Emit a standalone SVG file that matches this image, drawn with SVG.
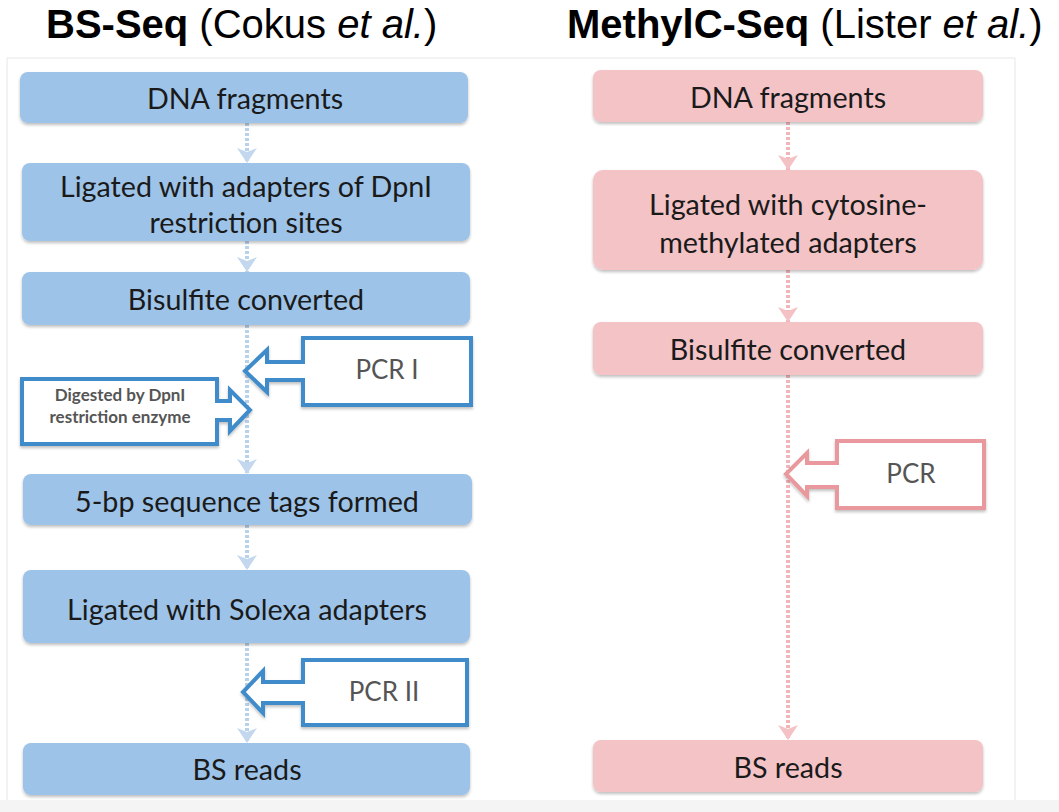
<svg xmlns="http://www.w3.org/2000/svg" width="1059" height="812" viewBox="0 0 1059 812">
<defs>
<style>
.title{font-family:"Liberation Sans",Arial,sans-serif;font-size:40px;fill:#000}
.b{font-weight:bold}
.i{font-style:italic}
.lbl{font-family:Lato,"Noto Sans",sans-serif;font-size:28.7px;fill:#1a1a1a;text-anchor:middle}
.call{font-family:Lato,"Noto Sans",sans-serif;font-size:26px;fill:#555;text-anchor:middle}
.small{font-family:Lato,"Noto Sans",sans-serif;font-size:17px;font-weight:bold;fill:#555;text-anchor:middle}
.blue{fill:#9dc3e8}
.pink{fill:#f3c3c6}
.cb{fill:#fff;stroke:#3f8ccb;stroke-width:4;stroke-linejoin:miter}
.cp{fill:#fff;stroke:#e9989d;stroke-width:4;stroke-linejoin:miter}
.lb{stroke:#b9d2ec;stroke-width:4;stroke-dasharray:3 2;fill:none}
.lp{stroke:#f2b5b9;stroke-width:4;stroke-dasharray:3 2;fill:none}
</style>
<filter id="sh" x="-5%" y="-10%" width="110%" height="130%">
<feDropShadow dx="0" dy="2" stdDeviation="1.5" flood-color="#000" flood-opacity="0.25"/>
</filter>
<marker id="ab" viewBox="0 -10 15 20" refX="15" refY="0" markerWidth="15" markerHeight="20" markerUnits="userSpaceOnUse" orient="auto">
<path d="M0,-10 L15,0 L0,10 L4,0 Z" fill="#c3d8ee"/>
</marker>
<marker id="ap" viewBox="0 -10 15 20" refX="15" refY="0" markerWidth="15" markerHeight="20" markerUnits="userSpaceOnUse" orient="auto">
<path d="M0,-10 L15,0 L0,10 L4,0 Z" fill="#f4c1c4"/>
</marker>
</defs>
<rect x="0" y="0" width="1059" height="812" fill="#fff"/>
<rect x="0" y="800" width="1059" height="12" fill="#f4f4f4"/>
<path d="M7,800 V58 H1015 V800" fill="none" stroke="#e6e6e6" stroke-width="1"/>

<text class="title" x="46" y="38"><tspan class="b">BS-Seq</tspan> (Cokus <tspan class="i">et al.</tspan>)</text>
<text class="title" x="567" y="38"><tspan class="b">MethylC-Seq</tspan> (Lister <tspan class="i">et al.</tspan>)</text>

<g id="connectors">
<line class="lb" x1="247" y1="123" x2="247" y2="163" marker-end="url(#ab)"/>
<line class="lb" x1="247" y1="241" x2="247" y2="272" marker-end="url(#ab)"/>
<line class="lb" x1="247" y1="325" x2="247" y2="474" marker-end="url(#ab)"/>
<line class="lb" x1="247" y1="525" x2="247" y2="570" marker-end="url(#ab)"/>
<line class="lb" x1="247" y1="643" x2="247" y2="743" marker-end="url(#ab)"/>
<line class="lp" x1="788" y1="122" x2="788" y2="170" marker-end="url(#ap)"/>
<line class="lp" x1="788" y1="270" x2="788" y2="322" marker-end="url(#ap)"/>
<line class="lp" x1="788" y1="375" x2="788" y2="740" marker-end="url(#ap)"/>
</g>

<g id="l-dna"><rect class="blue" filter="url(#sh)" x="20" y="72" width="448" height="51" rx="8"/><text class="lbl" x="245" y="109">DNA fragments</text></g>
<g id="l-lig"><rect class="blue" filter="url(#sh)" x="22" y="163" width="448" height="78" rx="8"/><text class="lbl" x="246" y="197">Ligated with adapters of DpnI</text><text class="lbl" x="246" y="233">restriction sites</text></g>
<g id="l-bis"><rect class="blue" filter="url(#sh)" x="22" y="272" width="448" height="53" rx="8"/><text class="lbl" x="246" y="310">Bisulfite converted</text></g>
<g id="l-pcr1"><path class="cb" filter="url(#sh)" d="M303,338 H471 V405 H303 V380 H267 V392 L245,371 L267,350 V362 H303 Z"/><text class="call" x="387" y="379">PCR I</text></g>
<g id="l-dig"><path class="cb" filter="url(#sh)" d="M22,379 H217 V401 H230 V390 L250,410 L230,431 V420 H217 V444 H22 Z"/><text class="small" x="120" y="401">Digested by DpnI</text><text class="small" x="120" y="423">restriction enzyme</text></g>
<g id="l-tags"><rect class="blue" filter="url(#sh)" x="23" y="474" width="449" height="51" rx="8"/><text class="lbl" x="247" y="512">5-bp sequence tags formed</text></g>
<g id="l-sol"><rect class="blue" filter="url(#sh)" x="23" y="570" width="447" height="73" rx="8"/><text class="lbl" x="247" y="620">Ligated with Solexa adapters</text></g>
<g id="l-pcr2"><path class="cb" filter="url(#sh)" d="M303,660 H467 V725 H303 V703 H263 V713 L243,692 L263,671 V682 H303 Z"/><text class="call" x="384" y="701">PCR II</text></g>
<g id="l-bs"><rect class="blue" filter="url(#sh)" x="23" y="743" width="447" height="52" rx="8"/><text class="lbl" x="247" y="780">BS reads</text></g>

<g id="r-dna"><rect class="pink" filter="url(#sh)" x="593" y="70" width="390" height="52" rx="8"/><text class="lbl" x="788" y="108">DNA fragments</text></g>
<g id="r-lig"><rect class="pink" filter="url(#sh)" x="593" y="170" width="390" height="100" rx="10"/><text class="lbl" x="788" y="215">Ligated with cytosine-</text><text class="lbl" x="788" y="253">methylated adapters</text></g>
<g id="r-bis"><rect class="pink" filter="url(#sh)" x="593" y="322" width="390" height="53" rx="8"/><text class="lbl" x="788" y="360">Bisulfite converted</text></g>
<g id="r-pcr"><path class="cp" filter="url(#sh)" d="M837,441 H984 V508 H837 V487 H807 V496 L786,474 L807,453 V463 H837 Z"/><text class="call" x="911" y="483">PCR</text></g>
<g id="r-bs"><rect class="pink" filter="url(#sh)" x="593" y="740" width="390" height="52" rx="8"/><text class="lbl" x="788" y="778">BS reads</text></g>
</svg>
